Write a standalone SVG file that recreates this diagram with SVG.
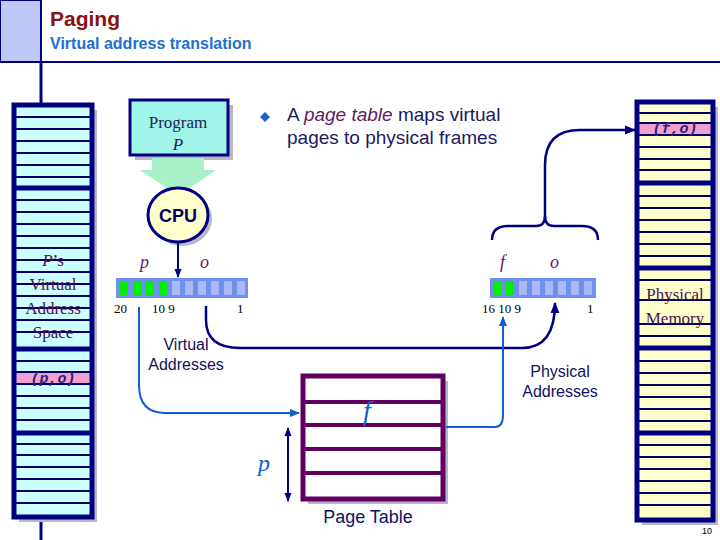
<svg xmlns="http://www.w3.org/2000/svg" width="720" height="540" viewBox="0 0 720 540">
<defs>
<style>
.sans{font-family:"Liberation Sans",Arial,sans-serif}
.serif{font-family:"Liberation Serif","Times New Roman",serif}
.thin{stroke:#000060;stroke-width:2}
.thick{stroke:#000080;stroke-width:5}
.num{font-family:"Liberation Serif",serif;font-size:13px;fill:#000}
.lbl{font-family:"Liberation Sans",Arial,sans-serif;font-size:16px;fill:#101060;text-anchor:middle}
</style>
<marker id="an" viewBox="0 0 10 10" refX="9" refY="5" markerWidth="4.5" markerHeight="4.5" orient="auto-start-reverse"><path d="M0,1 L10,5 L0,9 z" fill="#000080"/></marker>
<marker id="ab" viewBox="0 0 10 10" refX="9" refY="5" markerWidth="5" markerHeight="5" orient="auto"><path d="M0,1 L10,5 L0,9 z" fill="#1060d0"/></marker>
</defs>
<rect width="720" height="540" fill="#fff"/>
<g id="header">
<rect x="0" y="0" width="41" height="62" fill="#c0c8f8" stroke="#000080" stroke-width="2"/>
<line x1="41" y1="62" x2="720" y2="62" stroke="#000080" stroke-width="2"/>
<line x1="41" y1="62" x2="41" y2="105" stroke="#000080" stroke-width="3"/>
<line x1="41" y1="517" x2="41" y2="540" stroke="#000080" stroke-width="3"/>
<text x="50" y="26" class="sans" font-size="21" font-weight="bold" fill="#8b1010">Paging</text>
<text x="50" y="49" class="sans" font-size="16" font-weight="bold" fill="#2070d0">Virtual address translation</text>
</g>
<g id="virtual-space">
<rect x="19" y="110" width="78" height="412" fill="#b8b8c8"/>
<rect x="14" y="105" width="78" height="412" fill="#ccffff"/>
<rect x="15" y="372" width="76" height="12" fill="#f0a0d0"/>
<g class="thin">
<line x1="14" y1="117" x2="92" y2="117"/><line x1="14" y1="129" x2="92" y2="129"/><line x1="14" y1="141" x2="92" y2="141"/><line x1="14" y1="153" x2="92" y2="153"/><line x1="14" y1="165" x2="92" y2="165"/><line x1="14" y1="177" x2="92" y2="177"/>
<line x1="14" y1="200" x2="92" y2="200"/><line x1="14" y1="212" x2="92" y2="212"/><line x1="14" y1="224" x2="92" y2="224"/><line x1="14" y1="236" x2="92" y2="236"/><line x1="14" y1="248" x2="92" y2="248"/><line x1="14" y1="260" x2="92" y2="260"/><line x1="14" y1="272" x2="92" y2="272"/><line x1="14" y1="284" x2="92" y2="284"/><line x1="14" y1="296" x2="92" y2="296"/><line x1="14" y1="308" x2="92" y2="308"/><line x1="14" y1="320" x2="92" y2="320"/><line x1="14" y1="332" x2="92" y2="332"/>
<line x1="14" y1="361" x2="92" y2="361"/><line x1="14" y1="372" x2="92" y2="372"/><line x1="14" y1="384" x2="92" y2="384"/><line x1="14" y1="396" x2="92" y2="396"/><line x1="14" y1="408" x2="92" y2="408"/><line x1="14" y1="420" x2="92" y2="420"/>
<line x1="14" y1="444" x2="92" y2="444"/><line x1="14" y1="455" x2="92" y2="455"/><line x1="14" y1="467" x2="92" y2="467"/><line x1="14" y1="479" x2="92" y2="479"/><line x1="14" y1="491" x2="92" y2="491"/><line x1="14" y1="503" x2="92" y2="503"/>
</g>
<g class="thick"><line x1="14" y1="188" x2="92" y2="188"/><line x1="14" y1="349" x2="92" y2="349"/><line x1="14" y1="433" x2="92" y2="433"/></g>
<rect x="14" y="105" width="78" height="412" fill="none" stroke="#000080" stroke-width="5"/>
<g class="serif" font-size="17" fill="#501050" text-anchor="middle">
<text x="53" y="266"><tspan font-style="italic">P</tspan>’s</text>
<text x="53" y="290">Virtual</text>
<text x="53" y="314">Address</text>
<text x="53" y="338">Space</text>
</g>
<text x="53" y="383" font-family="Liberation Mono,monospace" font-size="15" font-weight="bold" font-style="italic" fill="#302080" text-anchor="middle">(p,o)</text>
</g>
<g id="physical-memory">
<rect x="642" y="107" width="76" height="418" fill="#b8b8c8"/>
<rect x="637" y="102" width="76" height="418" fill="#ffffcc"/>
<rect x="638" y="123" width="74" height="12" fill="#f0a0d0"/>
<g class="thin">
<line x1="637" y1="113" x2="713" y2="113"/><line x1="637" y1="123" x2="713" y2="123"/><line x1="637" y1="135" x2="713" y2="135"/><line x1="637" y1="147" x2="713" y2="147"/><line x1="637" y1="159" x2="713" y2="159"/><line x1="637" y1="170" x2="713" y2="170"/>
<line x1="637" y1="196" x2="713" y2="196"/><line x1="637" y1="208" x2="713" y2="208"/><line x1="637" y1="220" x2="713" y2="220"/><line x1="637" y1="232" x2="713" y2="232"/><line x1="637" y1="244" x2="713" y2="244"/><line x1="637" y1="256" x2="713" y2="256"/>
<line x1="637" y1="280" x2="713" y2="280"/><line x1="637" y1="300" x2="713" y2="300"/><line x1="637" y1="324" x2="713" y2="324"/><line x1="637" y1="336" x2="713" y2="336"/>
<line x1="637" y1="361" x2="713" y2="361"/><line x1="637" y1="373" x2="713" y2="373"/><line x1="637" y1="385" x2="713" y2="385"/><line x1="637" y1="397" x2="713" y2="397"/><line x1="637" y1="409" x2="713" y2="409"/><line x1="637" y1="421" x2="713" y2="421"/><line x1="637" y1="445" x2="713" y2="445"/><line x1="637" y1="457" x2="713" y2="457"/><line x1="637" y1="469" x2="713" y2="469"/><line x1="637" y1="481" x2="713" y2="481"/><line x1="637" y1="493" x2="713" y2="493"/><line x1="637" y1="505" x2="713" y2="505"/>
</g>
<g class="thick"><line x1="637" y1="183" x2="713" y2="183"/><line x1="637" y1="268" x2="713" y2="268"/><line x1="637" y1="348" x2="713" y2="348"/><line x1="637" y1="433" x2="713" y2="433"/></g>
<rect x="637" y="102" width="76" height="418" fill="none" stroke="#000080" stroke-width="5"/>
<text x="675" y="133" font-family="Liberation Mono,monospace" font-size="15" font-weight="bold" font-style="italic" fill="#302080" text-anchor="middle">(f,o)</text>
<g class="serif" font-size="17" fill="#501050" text-anchor="middle">
<text x="675" y="300">Physical</text>
<text x="675" y="324">Memory</text>
</g>
</g>
<g id="program">
<rect x="135" y="105" width="98" height="55" fill="#b8b8c8"/>
<rect x="130" y="100" width="98" height="55" fill="#a0f4e8" stroke="#000080" stroke-width="3"/>
<text x="178" y="128" class="serif" font-size="17" fill="#202060" text-anchor="middle">Program</text>
<text x="178" y="150" class="serif" font-size="17" font-style="italic" fill="#202060" text-anchor="middle">P</text>
<path d="M152,158 L204,158 L204,170 L216,170 L178,196 L140,170 L152,170 z" fill="#a8f0c8"/>
</g>
<g id="cpu">
<ellipse cx="182" cy="219" rx="30" ry="27" fill="#b8b8c8"/>
<ellipse cx="178" cy="215" rx="30" ry="27" fill="#ffffcc" stroke="#000080" stroke-width="3"/>
<text x="178" y="222" class="sans" font-size="18" font-weight="bold" fill="#000060" text-anchor="middle">CPU</text>
</g>
<g id="note">
<path d="M265,112 L270,117 L265,122 L260,117 z" fill="#2060d0"/>
<text x="287" y="121" class="sans" font-size="19" fill="#1a1a60">A <tspan font-style="italic" fill="#602060">page table</tspan> maps virtual</text>
<text x="287" y="144" class="sans" font-size="19" fill="#1a1a60">pages to physical frames</text>
</g>
<g id="virtual-register">
<rect x="116" y="278" width="132" height="20" fill="#7090f0"/>
<g fill="#00ee00"><rect x="120" y="281" width="8" height="14"/><rect x="133" y="281" width="8" height="14"/><rect x="146" y="281" width="8" height="14"/><rect x="159" y="281" width="8" height="14"/></g>
<g fill="#a8b8f8"><rect x="172" y="281" width="8" height="14"/><rect x="185" y="281" width="8" height="14"/><rect x="198" y="281" width="8" height="14"/><rect x="211" y="281" width="8" height="14"/><rect x="224" y="281" width="8" height="14"/><rect x="237" y="281" width="8" height="14"/></g>
<text x="140" y="268" class="serif" font-size="18" font-style="italic" fill="#602060">p</text>
<text x="200" y="268" class="serif" font-size="18" font-style="italic" fill="#602060">o</text>
<text x="114" y="313" class="num">20</text>
<text x="152" y="313" class="num">10 9</text>
<text x="237" y="313" class="num">1</text>
<text x="186" y="350" class="lbl">Virtual</text>
<text x="186" y="370" class="lbl">Addresses</text>
</g>
<g id="physical-register">
<rect x="490" y="278" width="106" height="20" fill="#7090f0"/>
<g fill="#00ee00"><rect x="493" y="281" width="8" height="14"/><rect x="506" y="281" width="8" height="14"/></g>
<g fill="#a8b8f8"><rect x="519" y="281" width="8" height="14"/><rect x="532" y="281" width="8" height="14"/><rect x="545" y="281" width="8" height="14"/><rect x="558" y="281" width="8" height="14"/><rect x="571" y="281" width="8" height="14"/><rect x="584" y="281" width="8" height="14"/></g>
<text x="500" y="268" class="serif" font-size="18" font-style="italic" fill="#602060">f</text>
<text x="550" y="268" class="serif" font-size="18" font-style="italic" fill="#602060">o</text>
<text x="482" y="313" class="num">16 10 9</text>
<text x="587" y="313" class="num">1</text>
<text x="560" y="377" class="lbl">Physical</text>
<text x="560" y="397" class="lbl">Addresses</text>
</g>
<g id="page-table">
<rect x="308" y="381" width="140" height="123" fill="#b8b8c8"/>
<rect x="303" y="376" width="140" height="123" fill="#fff" stroke="#600060" stroke-width="5"/>
<g stroke="#600060" stroke-width="4"><line x1="303" y1="402" x2="443" y2="402"/><line x1="303" y1="425" x2="443" y2="425"/><line x1="303" y1="449" x2="443" y2="449"/><line x1="303" y1="473" x2="443" y2="473"/></g>
<text x="363" y="420" class="serif" font-size="28" font-style="italic" fill="#1060d0">f</text>
<text x="258" y="471" class="serif" font-size="24" font-style="italic" fill="#1060d0">p</text>
<text x="368" y="523" class="sans" font-size="18" fill="#101060" text-anchor="middle">Page Table</text>
</g>
<g id="connectors" fill="none">
<line x1="178" y1="243" x2="178" y2="277" stroke="#000080" stroke-width="2" marker-end="url(#an)"/>
<line x1="288" y1="428" x2="288" y2="501" stroke="#000080" stroke-width="2" marker-start="url(#an)" marker-end="url(#an)"/>
<path d="M206,306 L206,320 Q206,348 240,348 L522,348 Q555,348 555,303" stroke="#000080" stroke-width="2.5" marker-end="url(#an)"/>
<path d="M492,240 Q492,226 508,226 L536,226 Q545,226 545,216 L545,165 Q545,130 580,130 L635,130" stroke="#000080" stroke-width="2.5" marker-end="url(#an)"/>
<path d="M598,240 Q598,226 582,226 L554,226 Q545,226 545,216" stroke="#000080" stroke-width="2.5"/>
<path d="M139,307 L139,385 Q139,413 165,413 L299,413" stroke="#1060d0" stroke-width="2" marker-end="url(#ab)"/>
<path d="M446,427 L495,427 Q503,427 503,415 L503,317" stroke="#1060d0" stroke-width="2" marker-end="url(#ab)"/>
</g>
<text x="707" y="534" class="sans" font-size="9" fill="#000" text-anchor="middle">10</text>
</svg>
